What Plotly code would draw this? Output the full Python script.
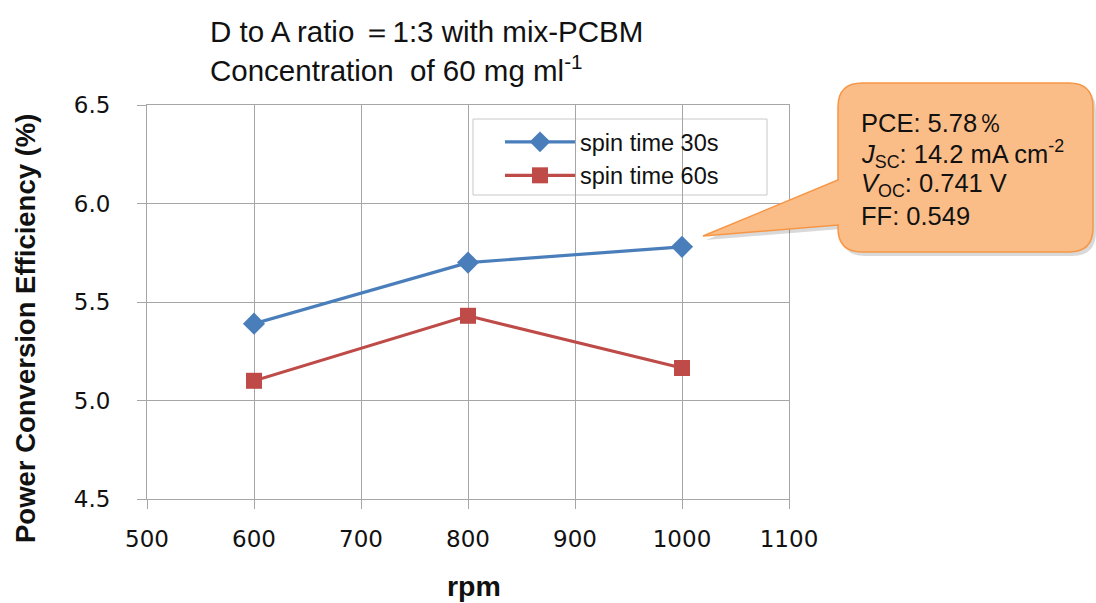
import plotly.graph_objects as go

rpm = [600, 800, 1000]
pce_30s = [5.39, 5.70, 5.78]
pce_60s = [5.10, 5.43, 5.165]
series_names = ["spin time 30s", "spin time 60s"]
x_ticks = [500, 600, 700, 800, 900, 1000, 1100]
y_ticks = [4.5, 5.0, 5.5, 6.0, 6.5]
title_lines = ["D to A ratio ＝1:3 with mix-PCBM", "Concentration  of 60 mg ml<sup>-1</sup>"]
callout_lines = ["PCE: 5.78％", "<i>J</i><sub>SC</sub>: 14.2 mA cm<sup>-2</sup>",
                 "<i>V</i><sub>OC</sub>: 0.741 V", "FF: 0.549"]

W, H = 1096, 603
PL, PR, PT, PB = 147, 789, 105, 499

def px(x):
    return (x - PL) / (PR - PL)

def py(y):
    return (PB - y) / (PB - PT)

fig = go.Figure()
fig.add_trace(go.Scatter(x=rpm, y=pce_30s, mode="lines+markers", name=series_names[0],
                         line=dict(color="#4a7ebb", width=3.2),
                         marker=dict(symbol="diamond", size=17, color="#4a7ebb")))
fig.add_trace(go.Scatter(x=rpm, y=pce_60s, mode="lines+markers", name=series_names[1],
                         line=dict(color="#be4b48", width=3.2),
                         marker=dict(symbol="square", size=16, color="#be4b48")))

grid = "#a6a6a6"
tickfont = dict(family="DejaVu Sans", size=23, color="#111")
fig.update_xaxes(range=[500, 1100], tickvals=x_ticks, showgrid=True, gridcolor=grid, gridwidth=1,
                 showline=True, linecolor=grid, mirror=True, ticks="outside", ticklen=9,
                 tickcolor=grid, tickfont=tickfont, zeroline=False, ticklabelstandoff=10)
fig.update_yaxes(range=[4.5, 6.5], tickvals=y_ticks, tickformat=".1f", showgrid=True,
                 gridcolor=grid, gridwidth=1, showline=True, linecolor=grid, mirror=True,
                 ticks="outside", ticklen=9, tickcolor=grid, tickfont=tickfont,
                 zeroline=False, ticklabelstandoff=22)

# legend box
shapes = [dict(type="rect", xref="paper", yref="paper", x0=px(473), x1=px(767), y0=py(195), y1=py(119),
               line=dict(color="#c8c8c8", width=1), fillcolor="white", layer="below")]

# callout path
L, R, T, B, r = 838, 1093, 83, 252, 24
pts = [("M", L + r, T), ("L", R - r, T), ("Q", R, T, R, T + r), ("L", R, B - r),
       ("Q", R, B, R - r, B), ("L", L + r, B), ("Q", L, B, L, B - r), ("L", L, 225),
       ("L", 703, 236), ("L", L, 180), ("L", L, T + r), ("Q", L, T, L + r, T)]
def build(dx=0, dy=0):
    s = ""
    for p in pts:
        cmd = p[0]
        coords = p[1:]
        parts = []
        for i in range(0, len(coords), 2):
            parts.append(f"{px(coords[i] + dx):.5f},{py(coords[i + 1] + dy):.5f}")
        s += cmd + " " + " ".join(parts) + " "
    return s + "Z"

shapes.append(dict(type="path", xref="paper", yref="paper", path=build(3, 4),
                   fillcolor="rgba(0,0,0,0.15)", line=dict(width=0), layer="above"))
shapes.append(dict(type="path", xref="paper", yref="paper", path=build(),
                   fillcolor="#fbbd87", line=dict(color="#f79646", width=1.5), layer="above"))

annotations = []
for i, t in enumerate(title_lines):
    annotations.append(dict(text=t, xref="paper", yref="paper", x=px(208), y=py(31 + 38 * i),
                            xanchor="left", yanchor="middle", showarrow=False,
                            font=dict(family="Liberation Sans, Arial", size=29.5, color="#111")))
for i, t in enumerate(callout_lines):
    annotations.append(dict(text=t, xref="paper", yref="paper", x=px(859), y=py(123 + 31 * i),
                            xanchor="left", yanchor="middle", showarrow=False,
                            font=dict(family="Liberation Sans, Arial", size=25.5, color="#111")))
annotations.append(dict(text="<b>Power Conversion Efficiency (%)</b>", xref="paper", yref="paper",
                        x=px(25), y=py(329), textangle=-90, showarrow=False,
                        xanchor="center", yanchor="middle",
                        font=dict(family="Liberation Sans, Arial", size=27.5, color="#111")))
annotations.append(dict(text="<b>rpm</b>", xref="paper", yref="paper", x=px(474), y=py(586),
                        showarrow=False, xanchor="center", yanchor="middle",
                        font=dict(family="Liberation Sans, Arial", size=28.5, color="#111")))

fig.update_layout(width=W, height=H, margin=dict(l=PL, r=W - PR, t=PT, b=H - PB),
                  paper_bgcolor="white", plot_bgcolor="white", shapes=shapes,
                  annotations=annotations, showlegend=True,
                  legend=dict(x=px(500), y=py(120), xanchor="left", yanchor="top",
                              bgcolor="rgba(0,0,0,0)", borderwidth=0, tracegroupgap=0,
                              font=dict(family="Liberation Sans, Arial", size=23.5, color="#111"),
                              itemwidth=70))
fig.write_html("out.html")
